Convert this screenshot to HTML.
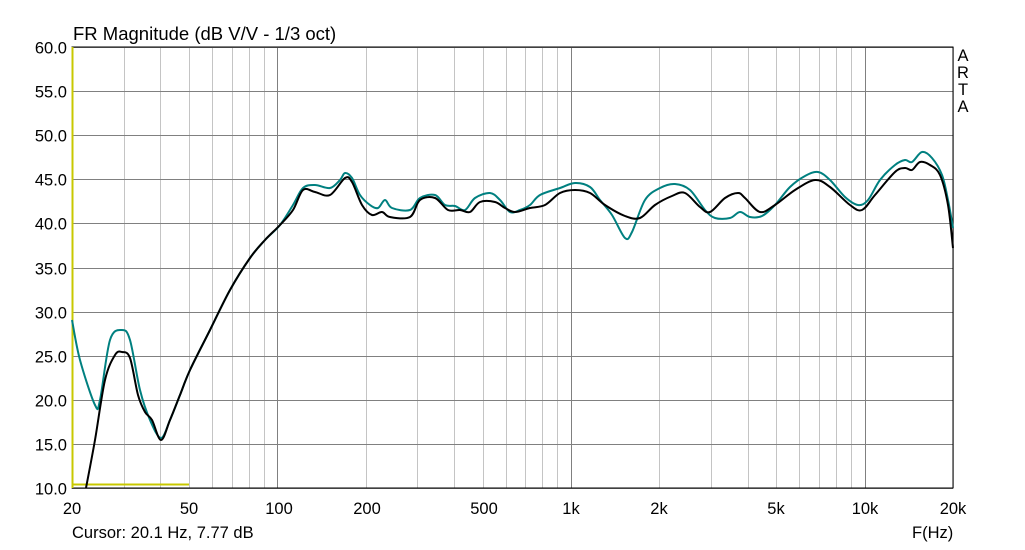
<!DOCTYPE html>
<html><head><meta charset="utf-8"><style>
body{margin:0;background:#fff;width:1025px;height:545px;overflow:hidden}
svg{font-family:"Liberation Sans",sans-serif}
</style></head><body>
<svg id="s" width="1025" height="545" xmlns="http://www.w3.org/2000/svg">
<rect width="1025" height="545" fill="#fff"/>
<g id="grid"></g>
<rect x="72" y="47" width="881" height="441" fill="none" stroke="#000" stroke-width="1"/>
<line x1="72.5" y1="47" x2="72.5" y2="488" stroke="#c8c800" stroke-width="2"/>
<line x1="72" y1="484.5" x2="189" y2="484.5" stroke="#c8c800" stroke-width="2"/>
<text x="73" y="40" font-size="18.5">FR Magnitude (dB V/V - 1/3 oct)</text>
<g font-size="16.5" text-anchor="end" id="yl"></g>
<g font-size="16.5" text-anchor="middle">
<text x="72" y="514">20</text><text x="189" y="514">50</text><text x="279" y="514">100</text>
<text x="367" y="514">200</text><text x="484" y="514">500</text><text x="571" y="514">1k</text>
<text x="659" y="514">2k</text><text x="776" y="514">5k</text><text x="865" y="514">10k</text>
<text x="953" y="514">20k</text>
<text x="963" y="61">A</text><text x="963" y="78">R</text><text x="963" y="95">T</text><text x="963" y="112">A</text>
</g>
<text x="72" y="538" font-size="16.5">Cursor: 20.1 Hz, 7.77 dB</text>
<text x="912" y="538" font-size="16.5">F(Hz)</text>
<path id="c1" fill="none" stroke="#008080" stroke-width="2" stroke-linejoin="round"/>
<path id="c2" fill="none" stroke="#000" stroke-width="2" stroke-linejoin="round"/>
</svg>
<script>
var g=document.getElementById('grid'),yl=document.getElementById('yl'),ns='http://www.w3.org/2000/svg';
function ln(x1,y1,x2,y2,c){var l=document.createElementNS(ns,'line');l.setAttribute('x1',x1);l.setAttribute('y1',y1);l.setAttribute('x2',x2);l.setAttribute('y2',y2);l.setAttribute('stroke',c);g.appendChild(l);}
[10,100,1000,10000].forEach(function(d){for(var k=1;k<10;k++){var f=d*k;if(f<20||f>20000)continue;var x=Math.round(72+881*Math.log10(f/20)/3)+0.5;ln(x,47,x,488,(k==1)?'#808080':'#c4c4c4');}});
for(var i=0;i<=10;i++){var y=Math.round(47+i*44.1)+0.5;ln(72,y,953,y,'#808080');var t=document.createElementNS(ns,'text');t.setAttribute('x',67);t.setAttribute('y',y+6);t.textContent=(60-5*i).toFixed(1);yl.appendChild(t);}
function sm(s){var p=s.trim().split(/\s+/).map(function(q){return q.split(',').map(Number)});var d='M'+p[0];for(var i=0;i<p.length-1;i++){var a=p[i-1]||p[i],b=p[i],c=p[i+1],e=p[i+2]||c;d+=' C'+(b[0]+(c[0]-a[0])/6)+','+(b[1]+(c[1]-a[1])/6)+' '+(c[0]-(e[0]-b[0])/6)+','+(c[1]-(e[1]-b[1])/6)+' '+c[0]+','+c[1];}return d;}
document.getElementById('c1').setAttribute('d',sm("72,320 80,360 95,405 100,400 110,340 122,330 130,340 140,390 150,420 161,438 170,420 180,395 190,370 210,330 230,290 250,258 265,240 280,225 293,205 303,188 315,185 330,188 340,180 345,173 352,178 360,195 370,205 378,208 385,200 392,208 410,210 420,198 435,195 445,205 455,206 465,210 475,198 490,193 500,200 510,212 520,210 530,205 540,195 560,188 575,183 590,187 600,200 612,215 625,238 632,232 645,200 660,188 675,184 690,190 705,210 715,218 730,218 740,212 750,217 762,216 775,205 790,187 805,176 818,172 830,180 845,197 858,205 868,200 880,180 895,165 905,160 912,162 922,152 932,158 942,175 948,200 953,228"));
document.getElementById('c2').setAttribute('d',sm("86,488 95,440 105,380 115,355 122,352 130,358 138,395 145,412 152,420 161,440 170,420 180,395 190,370 210,330 230,290 250,258 265,240 280,225 293,210 303,190 315,192 330,195 345,178 352,182 362,205 372,215 382,212 390,217 410,217 420,200 435,198 448,210 460,210 470,212 480,202 495,202 505,208 515,212 530,208 545,205 560,193 575,190 590,193 605,205 625,216 640,218 655,205 672,196 685,193 700,207 710,212 725,198 738,193 745,198 760,212 775,205 795,190 815,180 830,187 850,205 862,210 875,195 895,172 905,168 912,170 920,162 930,165 940,175 948,205 953,248"));
</script>
</body></html>
